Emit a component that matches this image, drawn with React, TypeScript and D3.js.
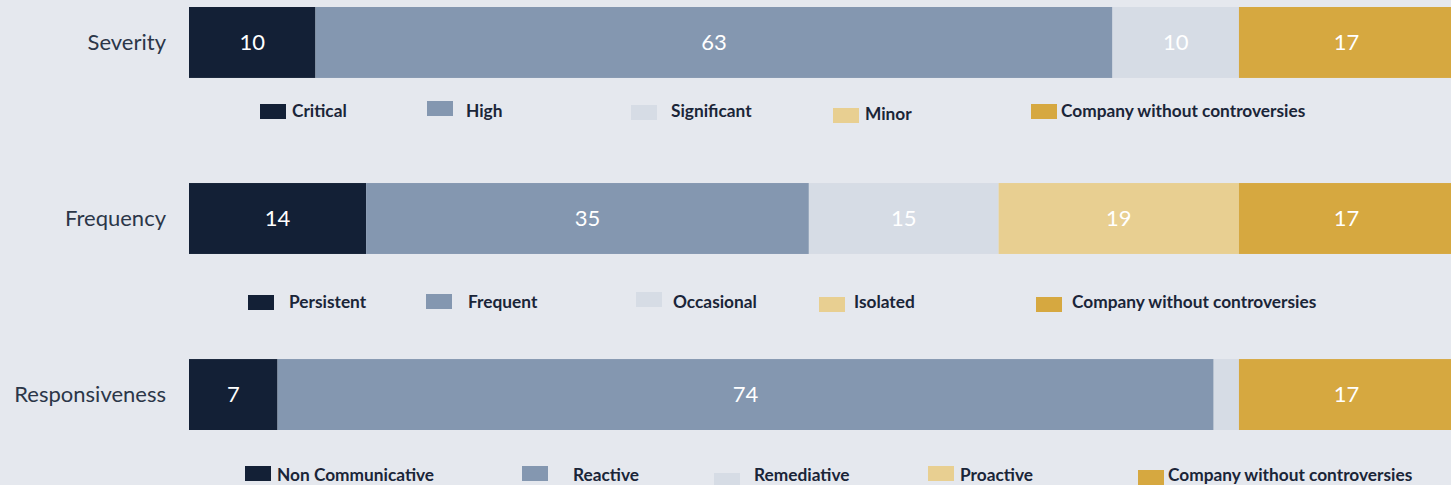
import React, { useRef, useEffect } from "react";
import * as d3 from "d3";

const categories = ["Severity", "Frequency", "Responsiveness"];

const severityValues = [10, 63, 10, 0, 17];
const frequencyValues = [14, 35, 15, 19, 17];
const responsivenessValues = [7, 74, 2, 0, 17];

const severityLegend = ["Critical", "High", "Significant", "Minor", "Company without controversies"];
const frequencyLegend = ["Persistent", "Frequent", "Occasional", "Isolated", "Company without controversies"];
const responsivenessLegend = ["Non Communicative", "Reactive", "Remediative", "Proactive", "Company without controversies"];

const COLORS = ["#132036", "#8497b0", "#d6dce5", "#e8cf91", "#d6a840"];

// legend swatch x, swatch y, text x, text baseline for each item, per row (hand-placed like the source)
const legendLayout = [
  [[260, 104, 292, 117], [427, 101, 466, 117], [631, 105, 671, 117], [833, 108, 865, 120], [1031, 104, 1061, 117]],
  [[248, 295, 289, 308], [426, 294, 468, 308], [636, 292, 673, 308], [819, 297, 854, 308], [1036, 297, 1072, 308]],
  [[245, 466, 277, 481], [522, 466, 573, 481], [714, 473, 754, 481], [928, 466, 960, 481], [1138, 470, 1168, 481]],
];

const W = 1451;
const H = 485;

export default function App() {
  const svgRef = useRef<SVGSVGElement>(null);

  useEffect(() => {
    const svg = d3.select(svgRef.current);
    svg.selectAll("*").remove();

    const rows = [
      { name: categories[0], values: severityValues, legend: severityLegend },
      { name: categories[1], values: frequencyValues, legend: frequencyLegend },
      { name: categories[2], values: responsivenessValues, legend: responsivenessLegend },
    ];

    // the plot runs slightly past the right edge of the picture
    const x = d3.scaleLinear().domain([0, 100]).range([189, 1454]);
    const y = d3.scaleBand().domain(categories).range([7, 430]).paddingInner(0.597).paddingOuter(0);

    svg.append("rect").attr("width", W).attr("height", H).attr("fill", "#e5e8ee");

    rows.forEach((row, ri) => {
      const starts = d3.cumsum([0, ...row.values]);
      const segs = row.values.map((v, i) => ({ v, i, x0: starts[i], x1: starts[i] + v }));
      const g = svg.append("g");
      const top = y(row.name)!;
      const bh = y.bandwidth();

      g.selectAll("rect.seg")
        .data(segs.filter(d => d.v > 0))
        .enter()
        .append("rect")
        .attr("x", d => x(d.x0))
        .attr("y", top)
        .attr("width", d => x(d.x1) - x(d.x0))
        .attr("height", bh)
        .attr("fill", d => COLORS[d.i]);

      g.selectAll("text.val")
        .data(segs.filter(d => d.v >= 5))
        .enter()
        .append("text")
        .attr("x", d => (x(d.x0) + x(d.x1)) / 2)
        .attr("y", top + bh / 2)
        .attr("dy", "0.36em")
        .attr("text-anchor", "middle")
        .attr("fill", "#ffffff")
        .style("font-family", "Lato, 'Open Sans', sans-serif")
        .style("font-size", "22px")
        .text(d => d.v);

      g.append("text")
        .attr("x", 166)
        .attr("y", top + bh / 2)
        .attr("dy", "0.36em")
        .attr("text-anchor", "end")
        .attr("fill", "#2b3648")
        .style("font-family", "Lato, 'Open Sans', sans-serif")
        .style("font-size", "22px")
        .text(row.name);

      const lg = g.selectAll("g.leg")
        .data(row.legend.map((label, i) => ({ label, i, pos: legendLayout[ri][i] })))
        .enter()
        .append("g");

      lg.append("rect")
        .attr("x", d => d.pos[0])
        .attr("y", d => d.pos[1])
        .attr("width", 26)
        .attr("height", 15)
        .attr("fill", d => COLORS[d.i]);

      lg.append("text")
        .attr("x", d => d.pos[2])
        .attr("y", d => d.pos[3])
        .attr("fill", "#1a2538")
        .style("font-family", "Lato, 'Open Sans', sans-serif")
        .style("font-weight", 700)
        .style("font-size", "17.3px")
        .text(d => d.label);
    });
  }, []);

  return (
    <svg
      ref={svgRef}
      width={W}
      height={H}
      style={{ position: "absolute", left: 0, top: 0, display: "block" }}
    />
  );
}
